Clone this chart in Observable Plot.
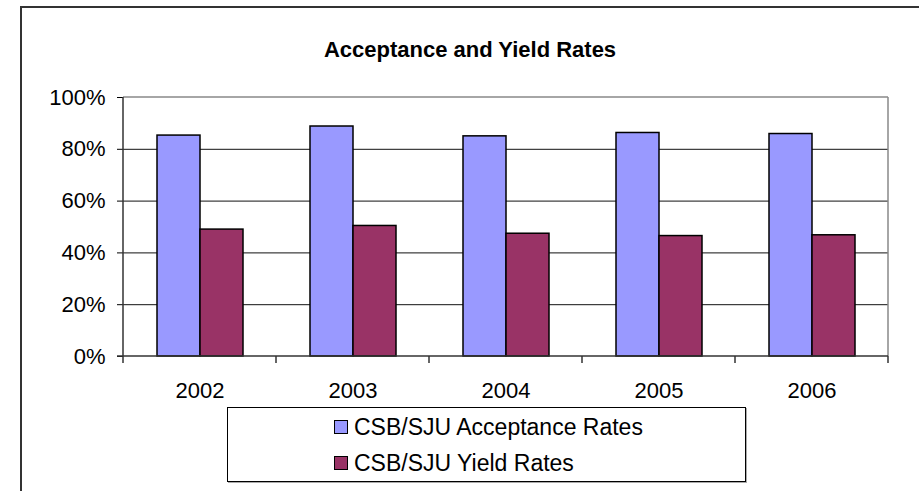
<!DOCTYPE html>
<html>
<head>
<meta charset="utf-8">
<script src="https://cdn.jsdelivr.net/npm/d3@7"></script>
<script src="https://cdn.jsdelivr.net/npm/@observablehq/plot@0.6"></script>
<style>
  body { margin: 0; background: #fff; }
  #wrap { position: relative; width: 919px; height: 491px; overflow: hidden; font-family: Arial, "Liberation Sans", sans-serif; color: #000; }
  #frame { position: absolute; left: 20px; top: 6px; width: 1000px; height: 600px; border-left: 2px solid #333; border-top: 2px solid #333; }
  #title { position: absolute; left: 21px; width: 898px; top: 37px; line-height: 26px; text-align: center; font-weight: bold; font-size: 22px; }
  #chart { position: absolute; left: 0; top: 0; }
  #legend { position: absolute; left: 227px; top: 407px; width: 517px; height: 73px; border: 1px solid #000; box-shadow: 1px 1px 0 #aaa; background: #fff; }
  .item { position: absolute; left: 106px; height: 26px; display: flex; align-items: center; font-size: 23px; white-space: nowrap; }
  .sw { width: 12px; height: 12px; border: 1.5px solid #000; margin-right: 6px; }
</style>
</head>
<body>
<div id="wrap">
  <div id="frame"></div>
  <div id="chart"></div>
  <div id="title">Acceptance and Yield Rates</div>
  <div id="legend"></div>
</div>
<script>
const years = ["2002", "2003", "2004", "2005", "2006"];
const acceptanceRates = [85.3, 88.8, 85.0, 86.3, 85.9];
const yieldRates = [49.0, 50.4, 47.4, 46.5, 46.8];
const seriesNames = ["CSB/SJU Acceptance Rates", "CSB/SJU Yield Rates"];
const seriesColors = ["#9999FF", "#993366"];
const yTicks = [0, 20, 40, 60, 80, 100];
const gridTicks = [20, 40, 60, 80];

const rows = [];
years.forEach((yr, i) => {
  rows.push({year: yr, series: seriesNames[0], value: acceptanceRates[i]});
  rows.push({year: yr, series: seriesNames[1], value: yieldRates[i]});
});

const plot = Plot.plot({
  width: 919,
  height: 491,
  marginLeft: 123,
  marginRight: 31,
  marginTop: 97,
  marginBottom: 135,
  style: {fontFamily: "Arial, 'Liberation Sans', sans-serif", fontSize: "22px", color: "#000", background: "transparent"},
  facet: {data: rows, x: "year"},
  fx: {domain: years, padding: 0, axis: "bottom", tickSize: 0, tickPadding: 26, label: null},
  x: {domain: seriesNames, paddingInner: 0, paddingOuter: 0.76, axis: null},
  y: {domain: [0, 100], ticks: yTicks, tickFormat: d => d + "%", tickSize: 6, tickPadding: 12, label: null},
  color: {domain: seriesNames, range: seriesColors},
  marks: [
    Plot.ruleY(gridTicks, {stroke: "#111", strokeWidth: 1}),
    Plot.barY(rows, {x: "series", y: "value", fill: "series", stroke: "#000", strokeWidth: 1.5})
  ]
});
document.getElementById("chart").appendChild(plot);

// Frame lines and category boundary ticks from the plot's own scales
const fx = plot.scale("fx");
const y = plot.scale("y");
const svg = d3.select(plot);
const x0 = fx.range[0], x1 = fx.range[1];
const yTop = y.apply(100), yBot = y.apply(0);
const g = svg.append("g");
g.append("line").attr("x1", x0).attr("x2", x1).attr("y1", yTop).attr("y2", yTop).attr("stroke", "#888").attr("stroke-width", 1.5);
g.append("line").attr("x1", x1).attr("x2", x1).attr("y1", yTop).attr("y2", yBot).attr("stroke", "#888").attr("stroke-width", 1.5);
g.append("line").attr("x1", x0).attr("x2", x0).attr("y1", yTop).attr("y2", yBot).attr("stroke", "#333").attr("stroke-width", 1.5);
g.append("line").attr("x1", x0 - 6).attr("x2", x1).attr("y1", yBot).attr("y2", yBot).attr("stroke", "#333").attr("stroke-width", 1.5);
const bounds = years.map(yr => fx.apply(yr)).concat([x1]);
bounds.forEach(bx => {
  g.append("line").attr("x1", bx).attr("x2", bx).attr("y1", yBot).attr("y2", yBot + 7).attr("stroke", "#333").attr("stroke-width", 1.5);
});

// Legend
const legend = document.getElementById("legend");
const centers = [19, 55];
seriesNames.forEach((name, i) => {
  const item = document.createElement("div");
  item.className = "item";
  item.style.top = (centers[i] - 13) + "px";
  const sw = document.createElement("span");
  sw.className = "sw";
  sw.style.background = seriesColors[i];
  item.appendChild(sw);
  item.appendChild(document.createTextNode(name));
  legend.appendChild(item);
});
</script>
</body>
</html>
